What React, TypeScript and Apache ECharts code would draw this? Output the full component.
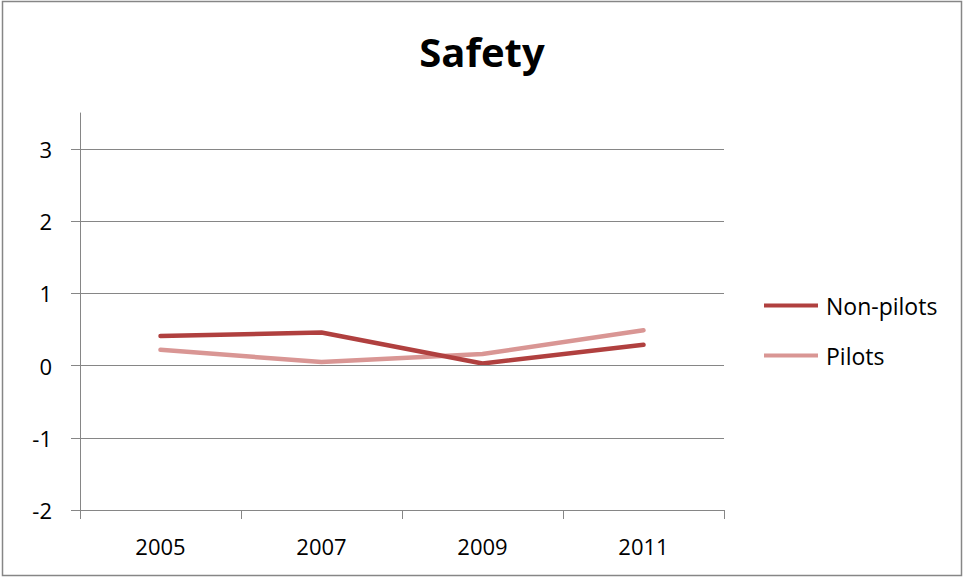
import React, { useEffect, useRef } from "react";
import * as echarts from "echarts";

const years = ["2005", "2007", "2009", "2011"];
const nonPilots = [0.41, 0.46, 0.03, 0.29];
const pilots = [0.22, 0.05, 0.16, 0.49];
const yTicks = [-2, -1, 0, 1, 2, 3];
const gridValues = [-1, 0, 1, 2, 3];

const FONT = "'Open Sans', 'Liberation Sans', sans-serif";
const AXIS_GRAY = "#868686";

export default function App() {
  const ref = useRef<HTMLDivElement>(null);

  useEffect(() => {
    document.body.style.margin = "0";
    if (!ref.current) return;
    const chart = echarts.init(ref.current, null, { renderer: "svg" });
    chart.setOption({
      animation: false,
      backgroundColor: "#ffffff",
      title: {
        text: "Safety",
        left: "center",
        top: 26,
        textStyle: { fontFamily: FONT, fontSize: 40, fontWeight: "bold", color: "#000" },
      },
      graphic: [
        {
          type: "rect",
          shape: { x: 2.5, y: 1.5, width: 959, height: 574 },
          style: { fill: "none", stroke: AXIS_GRAY, lineWidth: 1.5 },
          silent: true,
        },
      ],
      legend: {
        orient: "vertical",
        left: 764,
        top: 294,
        padding: 0,
        data: ["Non-pilots", "Pilots"],
        icon: "rect",
        itemWidth: 54,
        itemHeight: 4,
        itemGap: 27,
        textStyle: { fontFamily: FONT, fontSize: 23, color: "#000", padding: [0, 0, 0, 3] },
      },
      grid: { left: 80, right: 240, top: 113, bottom: 68 },
      xAxis: {
        type: "category",
        data: years,
        boundaryGap: true,
        axisLine: { onZero: false, lineStyle: { color: AXIS_GRAY, width: 1 } },
        axisTick: { show: true, length: 9, lineStyle: { color: AXIS_GRAY } },
        axisLabel: { fontFamily: FONT, fontSize: 22, color: "#000", margin: 25 },
      },
      yAxis: {
        type: "value",
        min: -2,
        max: 3.5,
        interval: 1,
        axisLine: { show: true, lineStyle: { color: AXIS_GRAY, width: 1 } },
        axisTick: { show: true, length: 9, lineStyle: { color: AXIS_GRAY }, customValues: yTicks },
        axisLabel: { fontFamily: FONT, fontSize: 22, color: "#000", margin: 28, customValues: yTicks },
        splitLine: { show: false },
      },
      series: [
        {
          name: "grid",
          type: "line",
          data: [],
          silent: true,
          z: 1,
          markLine: {
            silent: true,
            symbol: "none",
            label: { show: false },
            lineStyle: { color: AXIS_GRAY, width: 1, type: "solid" },
            data: gridValues.map((v) => ({ yAxis: v })),
          },
        },
        {
          name: "Non-pilots",
          type: "line",
          data: nonPilots,
          symbol: "none",
          z: 3,
          itemStyle: { color: "#B0403F" },
          lineStyle: { color: "#B0403F", width: 4.5, cap: "round", join: "round" },
        },
        {
          name: "Pilots",
          type: "line",
          data: pilots,
          symbol: "none",
          z: 2,
          itemStyle: { color: "#D99694" },
          lineStyle: { color: "#D99694", width: 4.5, cap: "round", join: "round" },
        },
      ],
    });
    return () => chart.dispose();
  }, []);

  return <div ref={ref} style={{ width: 964, height: 578 }} />;
}
